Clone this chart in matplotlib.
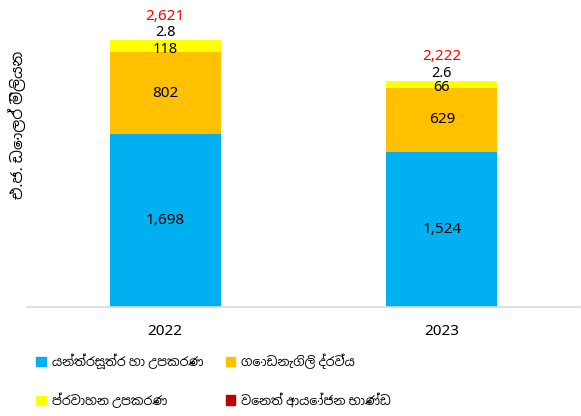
import matplotlib
matplotlib.use("Agg")
import matplotlib.pyplot as plt
from matplotlib.patches import Patch

years = ["2022", "2023"]
machinery = [1698, 1524]
building = [802, 629]
transport = [118, 66]
other = [2.8, 2.6]
totals = ["2,621", "2,222"]

series_names = [
    "යන්ත්‍රසූත්‍ර හා උපකරණ",
    "ගොඩනැගිලි ද්‍රව්‍ය",
    "ප්‍රවාහන උපකරණ",
    "වෙනත් ආයෝජන භාණ්ඩ",
]
colors = ["#00B0F0", "#FFC000", "#FFFF00", "#C00000"]
ylabel = "එ.ජ. ඩොලර් මිලියන"

plt.rcParams["font.family"] = ["Noto Sans", "Noto Sans Sinhala", "DejaVu Sans"]

fig = plt.figure(figsize=(5.81, 4.16), dpi=100)
ax = fig.add_axes([27 / 581, 109 / 416, 553 / 581, 297 / 416])

x = list(range(len(years)))
w = 0.40
bottom = [0, 0]
for vals, c in zip([machinery, building, transport, other], colors):
    ax.bar(x, vals, w, bottom=bottom, color=c)
    bottom = [b + v for b, v in zip(bottom, vals)]

for i in x:
    ax.text(i, machinery[i] / 2, f"{machinery[i]:,}", ha="center", va="center", fontsize=11)
    ax.text(i, machinery[i] + building[i] / 2, f"{building[i]:,}", ha="center", va="center", fontsize=11)
    b3 = machinery[i] + building[i]
    ax.text(i, b3 + transport[i] / 2 - 30, f"{transport[i]}", ha="center", va="center", fontsize=10.5)
    ax.text(i, bottom[i] + 70, f"{other[i]}", ha="center", va="center", fontsize=10.5)
    ax.text(i, bottom[i] + 235, totals[i], ha="center", va="center", fontsize=11, color="#FF0000")

ax.set_xlim(-0.5, 1.5)
ax.set_ylim(0, 2915)
ax.set_xticks(x)
ax.set_xticklabels(years, fontsize=11)
ax.tick_params(axis="x", length=0, pad=12)
ax.set_yticks([])
for s in ["top", "right", "left"]:
    ax.spines[s].set_visible(False)
ax.spines["bottom"].set_color("#D9D9D9")
ax.spines["bottom"].set_linewidth(1.2)

fig.text(18 / 581, 1 - 125 / 416, ylabel, rotation=90, ha="center", va="center", fontsize=11)

# legend is filled column by column, so order for two rows
order = [0, 2, 1, 3]
handles = [Patch(color=colors[k]) for k in order]
labels = [series_names[k] for k in order]
fig.legend(handles, labels, loc="upper left", bbox_to_anchor=(25 / 581, 1 - 342 / 416),
           ncol=2, frameon=False, fontsize=9, handlelength=0.75, handleheight=0.75,
           handletextpad=0.5, columnspacing=1.8, labelspacing=1.9)

fig.savefig("out.png", dpi=100)
